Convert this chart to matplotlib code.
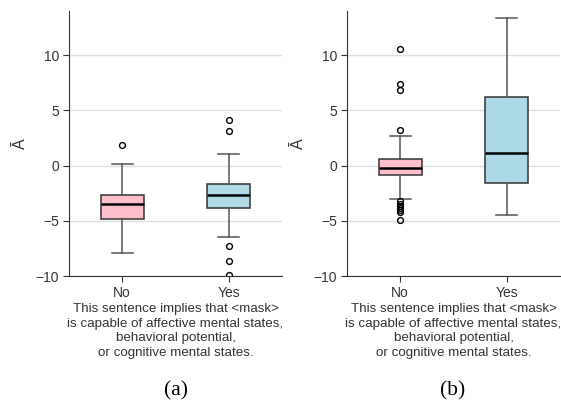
import matplotlib.pyplot as plt

# box statistics: [whislo, q1, med, q3, whishi]
groups = ['No', 'Yes']

a_no = [-7.95, -4.80, -3.44, -2.62, 0.12]
a_no_fliers = [1.9]
a_yes = [-6.49, -3.83, -2.66, -1.66, 1.05]
a_yes_fliers = [4.1, 3.1, -7.3, -8.66, -9.93]

b_no = [-3.05, -0.85, -0.21, 0.63, 2.70]
b_no_fliers = [10.59, 7.42, 6.82, 3.24, -3.25, -3.45, -3.65, -3.85, -4.05, -4.2, -4.89]
b_yes = [-4.47, -1.54, 1.18, 6.24, 13.36]
b_yes_fliers = []

colors = ['pink', 'lightblue']
caption = ('This sentence implies that <mask>\n'
           'is capable of affective mental states,\n'
           'behavioral potential,\n'
           'or cognitive mental states.')

plt.rcParams['font.family'] = ['Liberation Sans', 'DejaVu Sans']


def stats(vals, fliers, label):
    lo, q1, med, q3, hi = vals
    return dict(whislo=lo, q1=q1, med=med, q3=q3, whishi=hi, fliers=fliers, label=label)


def draw(ax, data):
    st = [stats(v, f, g) for (v, f), g in zip(data, groups)]
    bp = ax.bxp(st, positions=[0, 1], widths=0.4, patch_artist=True,
                boxprops=dict(edgecolor='#333333', linewidth=1.1),
                whiskerprops=dict(color='#555555', linewidth=1.1),
                capprops=dict(color='#555555', linewidth=1.1),
                medianprops=dict(color='black', linewidth=1.8),
                flierprops=dict(marker='o', markerfacecolor='none', markeredgecolor='black',
                                markersize=4.2, markeredgewidth=1.0))
    for patch, c in zip(bp['boxes'], colors):
        patch.set_facecolor(c)
    ax.set_xlim(-0.5, 1.5)
    ax.set_ylim(-10, 14)
    ax.set_yticks([-10, -5, 0, 5, 10])
    ax.yaxis.grid(True, color='#dddddd', linewidth=1)
    ax.set_axisbelow(True)
    for s in ['top', 'right']:
        ax.spines[s].set_visible(False)
    for s in ['left', 'bottom']:
        ax.spines[s].set_color('#333333')
    ax.tick_params(labelsize=10, colors='#333333', length=4, labelcolor='#333333', pad=3)
    ax.set_ylabel('Ā', fontsize=11.5, color='#333333', labelpad=6)
    ax.set_xlabel(caption, fontsize=9.6, color='#333333', labelpad=2.5, linespacing=1.28)


fig = plt.figure(figsize=(5.61, 4.01), dpi=100)
ax1 = fig.add_axes([69 / 561, 1 - 276 / 401, 213 / 561, 265 / 401])
ax2 = fig.add_axes([347 / 561, 1 - 276 / 401, 213 / 561, 265 / 401])

draw(ax1, [(a_no, a_no_fliers), (a_yes, a_yes_fliers)])
draw(ax2, [(b_no, b_no_fliers), (b_yes, b_yes_fliers)])

fig.text(176 / 561, 1 - 391 / 401, '(a)', family='Liberation Serif', fontsize=15.5,
         ha='center', va='center')
fig.text(453 / 561, 1 - 391 / 401, '(b)', family='Liberation Serif', fontsize=15.5,
         ha='center', va='center')

fig.savefig('out.png', dpi=100)
